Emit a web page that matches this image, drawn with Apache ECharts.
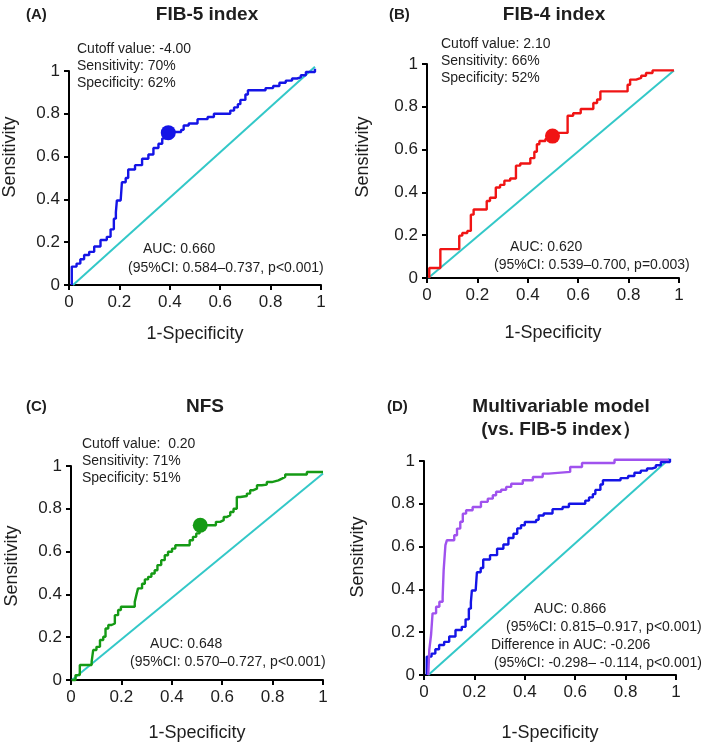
<!DOCTYPE html>
<html>
<head>
<meta charset="utf-8">
<script src="https://cdn.jsdelivr.net/npm/echarts@6/dist/echarts.min.js"></script>
<style>
html, body { margin: 0; padding: 0; background: #fff; }
#main { width: 709px; height: 744px; }
</style>
</head>
<body>
<div id="main"></div>
<script>
// ROC points [1-specificity, sensitivity]; the line steps right then up to each point
const fib5Roc = [
  [0.011, 0], [0.011, 0.086], [0.03, 0.10], [0.045, 0.12], [0.06, 0.14], [0.08, 0.155],
  [0.10, 0.18], [0.125, 0.21], [0.15, 0.225], [0.165, 0.26], [0.178, 0.31], [0.186, 0.34],
  [0.19, 0.395], [0.205, 0.40], [0.21, 0.48], [0.225, 0.50], [0.235, 0.54], [0.262, 0.56],
  [0.29, 0.59], [0.315, 0.61], [0.335, 0.64], [0.355, 0.66], [0.37, 0.685], [0.385, 0.70],
  [0.40, 0.715], [0.445, 0.725], [0.455, 0.745], [0.475, 0.755], [0.51, 0.775], [0.55, 0.785],
  [0.575, 0.80], [0.64, 0.815], [0.655, 0.83], [0.67, 0.845], [0.68, 0.865], [0.70, 0.89],
  [0.71, 0.91], [0.78, 0.92], [0.81, 0.93], [0.835, 0.945], [0.86, 0.955], [0.885, 0.965],
  [0.905, 0.97], [0.92, 0.98], [0.94, 0.995], [0.976, 1.01]
];
const fib4Roc = [
  [0.009, 0], [0.009, 0.047], [0.053, 0.135], [0.128, 0.198], [0.14, 0.21], [0.16, 0.22],
  [0.174, 0.296], [0.185, 0.32], [0.237, 0.36], [0.25, 0.375], [0.273, 0.423], [0.29, 0.435],
  [0.307, 0.455], [0.33, 0.465], [0.353, 0.525], [0.37, 0.535], [0.41, 0.56], [0.426, 0.59],
  [0.436, 0.625], [0.446, 0.64], [0.47, 0.65], [0.49, 0.665], [0.50, 0.678], [0.558, 0.758],
  [0.58, 0.77], [0.61, 0.79], [0.66, 0.818], [0.675, 0.834], [0.688, 0.872], [0.796, 0.903],
  [0.806, 0.927], [0.83, 0.935], [0.85, 0.945], [0.869, 0.958], [0.895, 0.97], [0.98, 0.97]
];
const nfsRoc = [
  [0.003, 0], [0.018, 0.023], [0.035, 0.07], [0.082, 0.086], [0.088, 0.14], [0.101, 0.155],
  [0.115, 0.187], [0.128, 0.202], [0.137, 0.241], [0.148, 0.257], [0.161, 0.264], [0.174, 0.303],
  [0.187, 0.327], [0.198, 0.342], [0.253, 0.365], [0.26, 0.40], [0.266, 0.428], [0.282, 0.45],
  [0.293, 0.47], [0.306, 0.482], [0.319, 0.498], [0.332, 0.513], [0.343, 0.537], [0.358, 0.56],
  [0.372, 0.583], [0.385, 0.599], [0.401, 0.614], [0.414, 0.63], [0.471, 0.653], [0.484, 0.669],
  [0.497, 0.685], [0.51, 0.723], [0.575, 0.739], [0.592, 0.747], [0.606, 0.762], [0.619, 0.77],
  [0.632, 0.785], [0.645, 0.80], [0.658, 0.855], [0.672, 0.86], [0.698, 0.871], [0.711, 0.887],
  [0.724, 0.894], [0.738, 0.91], [0.757, 0.913], [0.777, 0.925], [0.797, 0.933], [0.823, 0.941],
  [0.837, 0.949], [0.85, 0.96], [0.936, 0.972], [1.0, 0.975]
];
const multiRoc = [
  [0.017, 0], [0.021, 0.117], [0.028, 0.187], [0.034, 0.288], [0.048, 0.319], [0.061, 0.342],
  [0.074, 0.365], [0.078, 0.49], [0.085, 0.607], [0.091, 0.63], [0.12, 0.653], [0.131, 0.684],
  [0.144, 0.716], [0.154, 0.754], [0.167, 0.77], [0.193, 0.785], [0.226, 0.809], [0.253, 0.824],
  [0.273, 0.84], [0.286, 0.856], [0.306, 0.866], [0.326, 0.879], [0.346, 0.894], [0.392, 0.91],
  [0.432, 0.925], [0.471, 0.941], [0.494, 0.949], [0.58, 0.972], [0.627, 0.991], [0.756, 1.006],
  [0.971, 1.006]
];
// chance lines as drawn in each panel
const refA = [[0.016, 0], [0.976, 1.02]];
const refB = [[0.005, 0], [0.98, 0.97]];
const refC = [[0.004, 0], [1.0, 0.965]];
const refD = [[0.017, 0], [0.974, 1.01]];
// optimal cutoff points
const cutA = [[0.394, 0.712]];
const cutB = [[0.498, 0.663]];
const cutC = [[0.513, 0.723]];

const panelTags = ['(A)', '(B)', '(C)', '(D)'];
const panelTitles = ['FIB-5 index', 'FIB-4 index', 'NFS', 'Multivariable model\n(vs. FIB-5 index）'];
const cutoffLines = [
  ['Cutoff value: -4.00', 'Sensitivity: 70%', 'Specificity: 62%'],
  ['Cutoff value: 2.10', 'Sensitivity: 66%', 'Specificity: 52%'],
  ['Cutoff value:  0.20', 'Sensitivity: 71%', 'Specificity: 51%']
];
const aucLines = [
  ['AUC: 0.660', '(95%CI: 0.584–0.737, p<0.001)'],
  ['AUC: 0.620', '(95%CI: 0.539–0.700, p=0.003)'],
  ['AUC: 0.648', '(95%CI: 0.570–0.727, p<0.001)'],
  ['AUC: 0.866', '(95%CI: 0.815–0.917, p<0.001)', 'Difference in AUC: -0.206', '(95%CI: -0.298– -0.114, p<0.001)']
];
const tickLabels = ['0', '0.2', '0.4', '0.6', '0.8', '1'];
const xName = '1-Specificity';
const yName = 'Sensitivity';

const FONT = '"Liberation Sans", Arial, sans-serif';
const INK = '#1e1e1e';
const BLUE = '#1414e6';
const RED = '#f01414';
const GREEN = '#159a15';
const PURPLE = '#a052ee';
const CYAN = '#33c8c8';

// layout of each panel
const grids = [
  { left: 69, top: 71, width: 252, height: 214 },
  { left: 427, top: 64, width: 252, height: 214 },
  { left: 71, top: 466, width: 252, height: 214 },
  { left: 424, top: 461, width: 252, height: 214 }
];
const xGaps = [40, 46, 44, 49];
const yGaps = [50, 55, 50, 57];
const yShift = [42, 28, 14, 22];

const chart = echarts.init(document.getElementById('main'));

const axisCommon = {
  type: 'value', min: 0, max: 1, interval: 0.2,
  axisLine: { show: true, onZero: false, lineStyle: { color: '#000', width: 2 } },
  axisTick: { show: true, length: 5, lineStyle: { color: '#000', width: 2 } },
  splitLine: { show: false },
  axisLabel: {
    fontSize: 17, color: INK, fontFamily: FONT, margin: 9,
    formatter: function (v) { return tickLabels[Math.round(v * 5)]; }
  },
  nameLocation: 'middle',
  nameTextStyle: { fontSize: 18, color: INK, fontFamily: FONT }
};

const xAxis = grids.map(function (g, i) {
  return Object.assign({}, axisCommon, { gridIndex: i, name: xName, nameGap: xGaps[i] });
});
const yAxis = grids.map(function (g, i) {
  return Object.assign({}, axisCommon, {
    gridIndex: i, name: yName, nameGap: yGaps[i],
    nameTextStyle: { fontSize: 18, color: INK, fontFamily: FONT, padding: [0, 0, 0, yShift[i]] }
  });
});

function rocLine(data, idx, color) {
  return {
    type: 'line', xAxisIndex: idx, yAxisIndex: idx, data: data, step: 'end',
    showSymbol: false, symbol: 'none', clip: false, z: 3,
    lineStyle: { color: color, width: 2.4 }
  };
}
function refLine(data, idx) {
  return {
    type: 'line', xAxisIndex: idx, yAxisIndex: idx, data: data,
    showSymbol: false, symbol: 'none', clip: false, z: 2,
    lineStyle: { color: CYAN, width: 2 }
  };
}
function cutPoint(data, idx, color) {
  return {
    type: 'scatter', xAxisIndex: idx, yAxisIndex: idx, data: data,
    symbolSize: 15, itemStyle: { color: color, opacity: 1 }, z: 4
  };
}

const series = [
  refLine(refA, 0), rocLine(fib5Roc, 0, BLUE), cutPoint(cutA, 0, BLUE),
  refLine(refB, 1), rocLine(fib4Roc, 1, RED), cutPoint(cutB, 1, RED),
  refLine(refC, 2), rocLine(nfsRoc, 2, GREEN), cutPoint(cutC, 2, GREEN),
  refLine(refD, 3), rocLine(fib5Roc, 3, BLUE), rocLine(multiRoc, 3, PURPLE)
];

// text placement
const tagPos = [[26, 15], [389, 15], [26, 407], [387, 407]];
const titlePos = [[207, 15], [554, 15], [205, 407], [561, 418]];
const cutoffPos = [[77, 49], [441, 44], [82, 444]];
const aucPos = [
  [[143, 249], [128, 268]],
  [[510, 247], [494, 265]],
  [[150, 644], [130, 662]],
  [[534, 609], [506, 627], [491, 645], [494, 663]]
];

const graphics = [];
function addText(str, x, y, size, weight, align) {
  graphics.push({
    type: 'text', x: x, y: y, silent: true,
    style: {
      text: str, fill: INK, font: weight + ' ' + size + 'px ' + FONT,
      align: align, verticalAlign: 'middle', lineHeight: 23
    }
  });
}
panelTags.forEach(function (t, i) { addText(t, tagPos[i][0], tagPos[i][1], 15, 'bold', 'left'); });
panelTitles.forEach(function (t, i) { addText(t, titlePos[i][0], titlePos[i][1], 19, 'bold', 'center'); });
cutoffLines.forEach(function (lines, i) {
  lines.forEach(function (t, j) { addText(t, cutoffPos[i][0], cutoffPos[i][1] + j * 17, 14, 'normal', 'left'); });
});
aucLines.forEach(function (lines, i) {
  lines.forEach(function (t, j) { addText(t, aucPos[i][j][0], aucPos[i][j][1], 14, 'normal', 'left'); });
});

chart.setOption({
  animation: false,
  backgroundColor: '#fff',
  grid: grids,
  xAxis: xAxis,
  yAxis: yAxis,
  series: series,
  graphic: graphics
});
</script>
</body>
</html>
